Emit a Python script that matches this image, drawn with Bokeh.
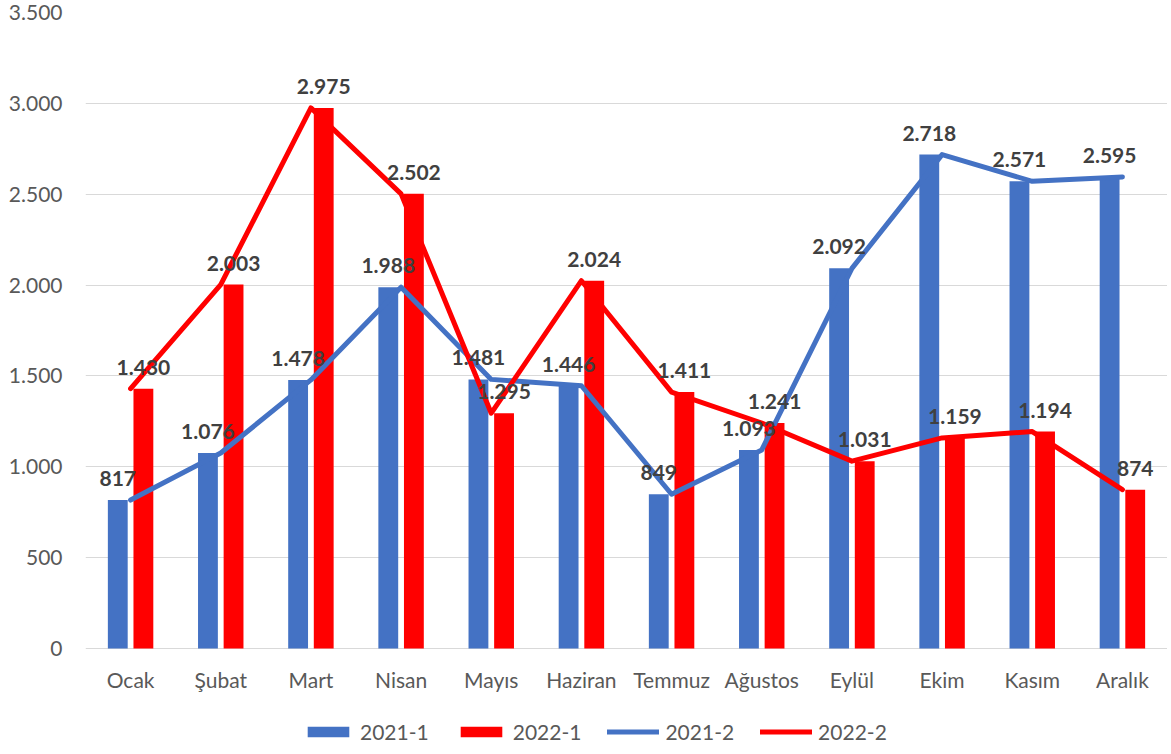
from bokeh.plotting import figure
from bokeh.models import (ColumnDataSource, FactorRange, Range1d, FixedTicker,
                          Legend, LegendItem)
from bokeh.transform import dodge
from bokeh.core.properties import value
from bokeh.embed import file_html
from bokeh.resources import INLINE

months = ["Ocak", "Şubat", "Mart", "Nisan", "Mayıs", "Haziran", "Temmuz",
          "Ağustos", "Eylül", "Ekim", "Kasım", "Aralık"]
s2021 = [817, 1076, 1478, 1988, 1481, 1446, 849, 1093, 2092, 2718, 2571, 2595]
s2022 = [1430, 2003, 2975, 2502, 1295, 2024, 1411, 1241, 1031, 1159, 1194, 874]
y_ticks = [0, 500, 1000, 1500, 2000, 2500, 3000, 3500]
y_tick_labels = ["0", "500", "1.000", "1.500", "2.000", "2.500", "3.000", "3.500"]
series_names = ["2021-1", "2022-1", "2021-2", "2022-2"]
Y_MAX = 3500


def fmt(v):
    return f"{v:,}".replace(",", ".")


src = ColumnDataSource(dict(
    m=months, a=s2021, b=s2022, zero=[0] * len(months),
    la=[fmt(v) for v in s2021], lb=[fmt(v) for v in s2022],
))

BLUE = "#4472C4"
RED = "#FF0000"
FONT = "Lato"
GREY = "#595959"

# layout in pixels: frame top (Y_MAX), zero line, frame bottom (room for legend)
PX_TOP, PX_ZERO, PX_BOTTOM = 12, 648, 752
y_start = -Y_MAX * (PX_BOTTOM - PX_ZERO) / (PX_ZERO - PX_TOP)

p = figure(frame_width=1082, frame_height=PX_BOTTOM - PX_TOP,
           output_backend="svg", toolbar_location=None,
           x_range=FactorRange(factors=months, range_padding=0),
           y_range=Range1d(y_start, Y_MAX),
           min_border_left=85, min_border_right=0, min_border_top=PX_TOP,
           min_border_bottom=0)
p.outline_line_color = None
p.background_fill_color = "white"
p.border_fill_color = "white"

p.xgrid.grid_line_color = None
p.ygrid.ticker = FixedTicker(ticks=y_ticks)
p.ygrid.grid_line_color = "#D9D9D9"
p.ygrid.grid_line_width = 1

p.yaxis.ticker = FixedTicker(ticks=y_ticks)
p.yaxis.major_label_overrides = {t: l for t, l in zip(y_ticks, y_tick_labels)}
p.yaxis.axis_line_color = None
p.yaxis.major_tick_line_color = None
p.yaxis.minor_tick_line_color = None
p.yaxis.major_tick_out = 0
p.yaxis.major_label_standoff = 23
p.yaxis.major_label_text_font = FONT
p.yaxis.major_label_text_font_size = "21px"
p.yaxis.major_label_text_color = GREY

p.xaxis.visible = False

ra = p.vbar(x=dodge("m", -0.142, range=p.x_range), top="a", width=0.22,
            source=src, fill_color=BLUE, line_color=None)
rb = p.vbar(x=dodge("m", 0.142, range=p.x_range), top="b", width=0.22,
            source=src, fill_color=RED, line_color=None)
la = p.line(x="m", y="a", source=src, line_color=BLUE, line_width=5,
            line_join="round", line_cap="round")
lb = p.line(x="m", y="b", source=src, line_color=RED, line_width=5,
            line_join="round", line_cap="round")

for col, lab, off in (("a", "la", -0.142), ("b", "lb", 0.142)):
    p.text(x=dodge("m", off, range=p.x_range), y=col, text=lab, source=src,
           text_align="center", text_baseline="bottom", y_offset=-14,
           text_font=value(FONT), text_font_style="bold",
           text_font_size="21px", text_color="#404040")

# category labels under the zero line
p.text(x="m", y="zero", text="m", source=src, text_align="center",
       text_baseline="middle", y_offset=31, text_font=value(FONT),
       text_font_size="21px", text_color=GREY)

legend = Legend(items=[LegendItem(label=n, renderers=[r])
                       for n, r in zip(series_names, [ra, rb, la, lb])],
                orientation="horizontal", location=(217, 8))
legend.glyph_width = 52
legend.glyph_height = 13
legend.label_standoff = 6
legend.spacing = 26
legend.padding = 0
legend.margin = 0
legend.border_line_color = None
legend.background_fill_alpha = 0
legend.label_text_font = FONT
legend.label_text_font_size = "21px"
legend.label_text_color = GREY
p.add_layout(legend, "center")

open("out.html", "w").write(file_html(p, INLINE))
